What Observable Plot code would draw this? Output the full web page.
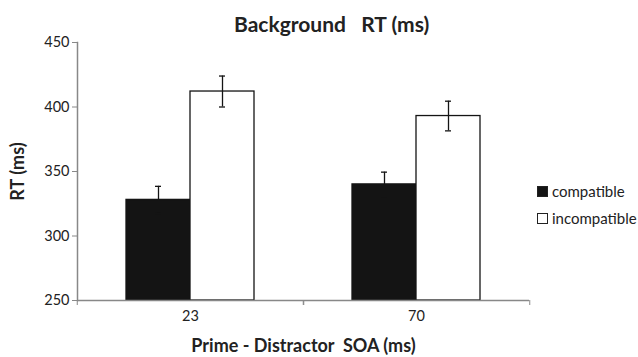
<!DOCTYPE html>
<html>
<head>
<meta charset="utf-8">
<script src="https://cdn.jsdelivr.net/npm/d3@7"></script>
<script src="https://cdn.jsdelivr.net/npm/@observablehq/plot@0.6"></script>
<style>
  body { margin: 0; background: #fff; }
  #wrap { position: relative; width: 638px; height: 357px; font-family: Lato, "Open Sans", sans-serif; color: #222; }
  #title { position: absolute; left: 234px; top: 12px; font-size: 21px; line-height: 24px; font-weight: bold; white-space: pre; color: #222; }
  #legend { position: absolute; left: 537px; top: 181px; font-size: 15px; color: #222; }
  #legend .row { display: flex; align-items: center; height: 20px; margin-bottom: 7px; }
  #legend .sw { width: 9px; height: 9px; margin-right: 4px; border: 1px solid #222; box-sizing: content-box; }
  g[aria-label="fx-axis label"] text, g[aria-label="y-axis label"] text { font-weight: bold; font-size: 18px; white-space: pre; }
</style>
</head>
<body>
<div id="wrap">
  <div id="title"></div>
  <div id="legend"></div>
</div>
<script>
// ---- data ----
const soaLabels = ["23", "70"];
const conditions = ["compatible", "incompatible"];
const rtCompatible = [328, 340];
const rtIncompatible = [412, 393];
const errCompatible = [10.5, 9.5];
const errIncompatible = [12, 11.5];
const yTicks = [250, 300, 350, 400, 450];
const colors = ["#141414", "#ffffff"];
const titleText = "Background   RT (ms)";
const xLabel = "Prime - Distractor  SOA (ms)";
const yLabel = "RT (ms)";

const data = [];
soaLabels.forEach((s, i) => {
  data.push({soa: s, cond: conditions[0], rt: rtCompatible[i], err: errCompatible[i]});
  data.push({soa: s, cond: conditions[1], rt: rtIncompatible[i], err: errIncompatible[i]});
});

// ---- layout ----
const W = 638, H = 357, mL = 76, mR = 109, mT = 42, mB = 57;
const padOuter = 0.742;
const facetW = (W - mL - mR) / soaLabels.length;
const barW = facetW / (conditions.length + 2 * padOuter);
const capW = 7;
const yMin = yTicks[0], yMax = yTicks[yTicks.length - 1];

const chart = Plot.plot({
  width: W, height: H,
  marginLeft: mL, marginRight: mR, marginTop: mT, marginBottom: mB,
  style: {fontFamily: "Lato, 'Open Sans', sans-serif", fontSize: "14px", color: "#222", background: "white"},
  fx: {domain: soaLabels, padding: 0},
  x: {domain: conditions, paddingInner: 0, paddingOuter: padOuter, axis: null},
  y: {domain: [yMin, yMax], axis: null},
  color: {domain: conditions, range: colors},
  marks: [
    Plot.barY(data, {fx: "soa", x: "cond", y1: yMin, y2: "rt", fill: "cond", stroke: "#141414", strokeWidth: 1.3}),
    Plot.ruleX(data, {fx: "soa", x: "cond", y1: d => d.rt - d.err, y2: d => d.rt + d.err, stroke: "#141414", strokeWidth: 1.3}),
    Plot.tickY(data, {fx: "soa", x: "cond", y: d => d.rt + d.err, stroke: "#141414", strokeWidth: 1.3, inset: (barW - capW) / 2}),
    Plot.tickY(data, {fx: "soa", x: "cond", y: d => d.rt - d.err, stroke: "#141414", strokeWidth: 1.3, inset: (barW - capW) / 2}),
    Plot.ruleY([yMin], {stroke: "#888", strokeWidth: 1.5}),
    Plot.frame({anchor: "left", facetAnchor: "left", stroke: "#888", strokeWidth: 1.5}),
    Plot.axisY({ticks: yTicks, tickSize: 5, tickPadding: 3, fontSize: 14.5, stroke: "#888", fill: "#222", label: yLabel, labelAnchor: "center", labelArrow: "none", labelOffset: 66}),
    Plot.axisFx({anchor: "bottom", tickSize: 0, tickPadding: 10, fontSize: 14.5, fill: "#222", label: xLabel, labelAnchor: "center", labelArrow: "none", labelOffset: 51}),
    Plot.axisFx({anchor: "bottom", tickSize: 5, tickFormat: () => "", label: null, stroke: "#888", dx: -facetW / 2}),
    Plot.axisFx({anchor: "bottom", tickSize: 5, tickFormat: () => "", label: null, stroke: "#888", dx: facetW / 2})
  ]
});

const wrap = document.getElementById("wrap");
wrap.insertBefore(chart, wrap.firstChild);
document.getElementById("title").textContent = titleText;

const legend = document.getElementById("legend");
conditions.forEach((c, i) => {
  const row = document.createElement("div");
  row.className = "row";
  const sw = document.createElement("span");
  sw.className = "sw";
  sw.style.background = colors[i];
  const t = document.createElement("span");
  t.textContent = c;
  row.appendChild(sw);
  row.appendChild(t);
  legend.appendChild(row);
});
</script>
</body>
</html>
